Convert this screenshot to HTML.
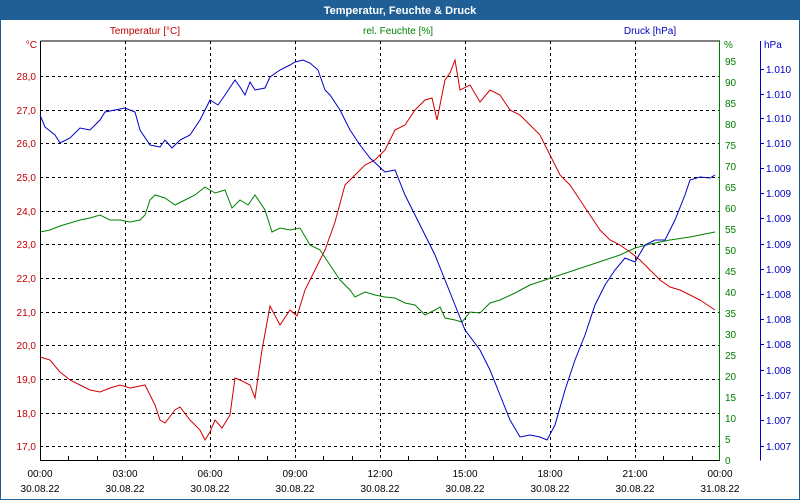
<!DOCTYPE html>
<html><head><meta charset="utf-8"><style>
body{margin:0;background:#fff}
svg{display:block;font-family:"Liberation Sans",sans-serif;font-size:10px}
</style></head><body>
<svg width="800" height="500" xmlns="http://www.w3.org/2000/svg">
<rect x="0" y="0" width="800" height="500" fill="#fff"/>
<rect x="0" y="0" width="800" height="20" fill="#1f5f96"/>
<text x="400" y="14" text-anchor="middle" fill="#fff" font-weight="bold" font-size="11">Temperatur, Feuchte &amp; Druck</text>
<rect x="0" y="20" width="1" height="480" fill="#1f5f96"/><rect x="799" y="20" width="1" height="480" fill="#1f5f96"/><rect x="0" y="499" width="800" height="1" fill="#1f5f96"/>
<text x="145" y="34" text-anchor="middle" fill="#c00000">Temperatur [°C]</text>
<text x="398" y="34" text-anchor="middle" fill="#008000">rel. Feuchte [%]</text>
<text x="650" y="34" text-anchor="middle" fill="#0000c0">Druck [hPa]</text>
<text x="37" y="48" text-anchor="end" fill="#c00000">°C</text>
<text x="724" y="48" fill="#008000">%</text>
<text x="764" y="48" fill="#0000c0">hPa</text>
<g stroke="#000" stroke-dasharray="3,3" stroke-width="1">
<path d="M125.5 41V460M210.5 41V460M295.5 41V460M380.5 41V460M465.5 41V460M550.5 41V460M635.5 41V460"/>
<path d="M40 76.5H720M40 110.5H720M40 143.5H720M40 177.5H720M40 211.5H720M40 244.5H720M40 278.5H720M40 312.5H720M40 345.5H720M40 379.5H720M40 413.5H720M40 446.5H720"/>
</g>
<path d="M40.5 41V460.5H720" stroke="#000" fill="none"/>
<path d="M40.5 41H720" stroke="#000"/>
<path d="M719.5 41V460.5" stroke="#008000"/>
<path d="M760.5 41V460.5" stroke="#0000c0"/>
<g stroke="#000"><path d="M68.5 460V456M97.5 460V456M153.5 460V456M182.5 460V456M238.5 460V456M267.5 460V456M323.5 460V456M352.5 460V456M408.5 460V456M437.5 460V456M493.5 460V456M522.5 460V456M578.5 460V456M607.5 460V456M663.5 460V456M692.5 460V456"/></g>
<g fill="#c00000" text-anchor="end">
<text x="36" y="80">28,0</text><text x="36" y="114">27,0</text><text x="36" y="147">26,0</text><text x="36" y="181">25,0</text><text x="36" y="215">24,0</text><text x="36" y="248">23,0</text><text x="36" y="282">22,0</text><text x="36" y="316">21,0</text><text x="36" y="349">20,0</text><text x="36" y="383">19,0</text><text x="36" y="417">18,0</text><text x="36" y="450">17,0</text>
</g>
<g fill="#008000">
<text x="725" y="464">0</text><text x="725" y="443">5</text><text x="725" y="422">10</text><text x="725" y="401">15</text><text x="725" y="380">20</text><text x="725" y="359">25</text><text x="725" y="338">30</text><text x="725" y="317">35</text><text x="725" y="296">40</text><text x="725" y="275">45</text><text x="725" y="254">50</text><text x="725" y="233">55</text><text x="725" y="212">60</text><text x="725" y="191">65</text><text x="725" y="170">70</text><text x="725" y="149">75</text><text x="725" y="128">80</text><text x="725" y="107">85</text><text x="725" y="86">90</text><text x="725" y="65">95</text>
</g>
<g stroke="#0000c0"><path d="M760 69.5h4M760 94.5h4M760 118.5h4M760 143.5h4M760 168.5h4M760 193.5h4M760 218.5h4M760 244.5h4M760 269.5h4M760 294.5h4M760 319.5h4M760 344.5h4M760 370.5h4M760 395.5h4M760 420.5h4M760 446.5h4"/></g>
<g fill="#0000c0">
<text x="766" y="73">1.010</text><text x="766" y="98">1.010</text><text x="766" y="122">1.010</text><text x="766" y="147">1.010</text><text x="766" y="172">1.009</text><text x="766" y="197">1.009</text><text x="766" y="222">1.009</text><text x="766" y="248">1.009</text><text x="766" y="273">1.009</text><text x="766" y="298">1.008</text><text x="766" y="323">1.008</text><text x="766" y="348">1.008</text><text x="766" y="374">1.008</text><text x="766" y="399">1.007</text><text x="766" y="424">1.007</text><text x="766" y="450">1.007</text>
</g>
<g fill="#000" text-anchor="middle">
<text x="40" y="477">00:00</text><text x="125" y="477">03:00</text><text x="210" y="477">06:00</text><text x="295" y="477">09:00</text><text x="380" y="477">12:00</text><text x="465" y="477">15:00</text><text x="550" y="477">18:00</text><text x="635" y="477">21:00</text><text x="720" y="477">00:00</text>
<text x="40" y="492">30.08.22</text><text x="125" y="492">30.08.22</text><text x="210" y="492">30.08.22</text><text x="295" y="492">30.08.22</text><text x="380" y="492">30.08.22</text><text x="465" y="492">30.08.22</text><text x="550" y="492">30.08.22</text><text x="635" y="492">30.08.22</text><text x="720" y="492">31.08.22</text>
</g>
<polyline fill="none" stroke="#d00000" points="40,357 50,360 60,372 70,380 80,385 90,390 100,392 110,388 120,385 130,388 145,385 155,405 160,420 165,423 175,410 180,407 190,420 200,430 205,440 210,432 215,420 222,428 230,415 235,378 240,380 250,385 255,398 262,350 270,306 280,325 290,310 297,316 305,290 315,270 325,250 335,222 345,185 355,175 365,165 375,160 385,150 395,130 405,125 415,110 425,100 432,98 437,120 445,80 450,73 455,60 460,90 470,85 480,102 490,90 500,95 510,110 520,115 530,125 540,135 550,155 560,175 570,185 580,200 590,215 600,230 610,240 620,245 630,252 640,260 650,270 660,280 670,287 680,290 690,295 700,300 715,310"/>
<polyline fill="none" stroke="#008000" points="40,232 50,230 60,226 70,223 80,220 90,218 100,215 110,220 120,220 130,222 140,220 145,215 150,200 155,195 165,198 175,205 185,200 195,195 205,187 215,193 225,190 232,208 240,200 248,205 255,195 265,210 272,232 280,228 290,230 300,228 310,245 320,250 330,265 340,280 350,290 355,297 365,292 375,295 385,297 395,298 405,303 415,305 425,315 435,310 440,307 445,318 455,320 462,322 470,312 480,313 490,303 500,300 515,293 530,285 545,280 560,275 575,270 590,265 605,260 620,255 635,248 650,244 670,240 690,237 715,232"/>
<polyline fill="none" stroke="#0000c8" points="40,115 45,127 55,135 60,143 70,138 80,128 90,130 100,120 105,112 115,110 125,108 135,112 140,130 150,145 160,147 165,140 172,148 180,140 190,135 200,120 210,100 218,105 225,95 235,80 240,87 245,95 250,82 255,90 265,88 270,77 280,70 290,65 295,62 303,60 310,63 318,70 325,90 330,95 340,110 350,130 360,145 370,158 385,172 395,170 405,195 415,215 425,235 435,255 445,280 455,305 465,330 480,350 490,370 500,395 510,420 520,437 530,435 540,437 547,440 555,425 565,390 575,360 585,335 595,305 605,285 615,270 625,258 635,262 645,245 655,240 665,240 675,220 685,195 690,180 700,177 710,178 715,175"/>
</svg>
</body></html>
